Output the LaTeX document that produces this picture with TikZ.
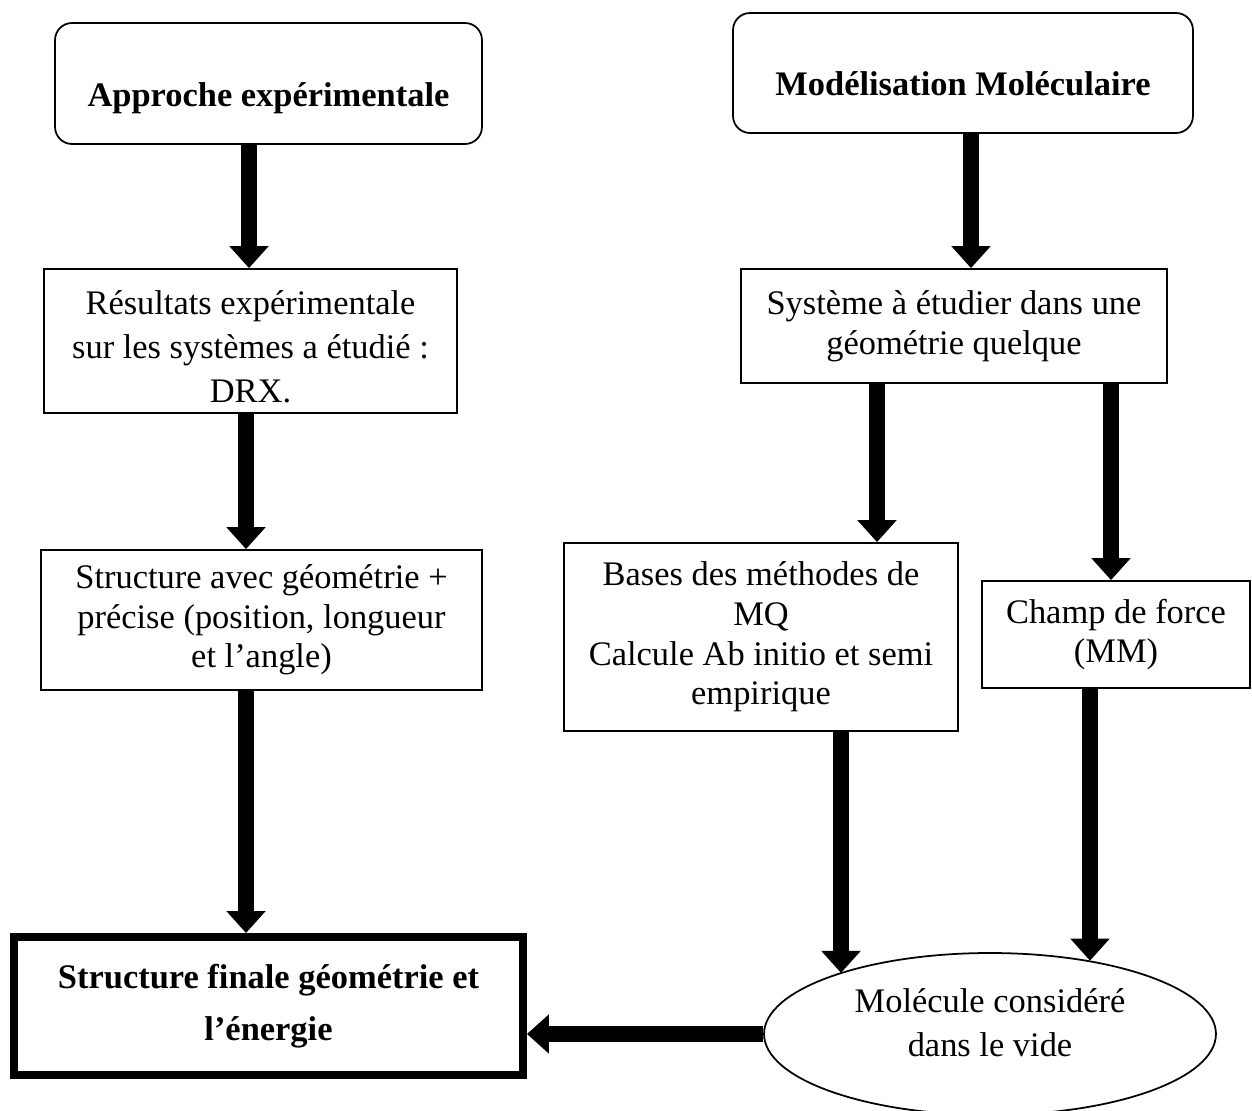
\documentclass[tikz,border=0pt]{standalone}
\usepackage{fontspec}
\setmainfont{Liberation Serif}
\usetikzlibrary{arrows.meta,shapes.geometric}

\begin{document}
\begin{tikzpicture}[x=0.02cm,y=-0.02cm,
    box/.style={draw,line width=1pt,align=center,inner sep=0pt,font=\fontsize{19.6}{22.6}\selectfont},
    rbox/.style={box,rounded corners=0.34cm,font=\fontsize{19.6}{22.6}\selectfont\bfseries,text height=0.92cm,text depth=0cm},
    fleche/.style={line width=0.32cm,-{Triangle[width=0.76cm,length=0.44cm]}}]
  \fill[white] (0,0) rectangle (1252,1111);
  \useasboundingbox (0,0) rectangle (1252,1111);

  % left column
  \node[rbox,minimum width=8.54cm,minimum height=2.42cm] (approche) at (268.5,83.5) {Approche expérimentale};
  \node[box,minimum width=8.26cm,minimum height=2.88cm,text height=2.49cm] (resultats) at (250.5,341)
    {Résultats expérimentale\\[2.5pt] sur les systèmes a étudié :\\[2.5pt] DRX.};
  \node[box,minimum width=8.82cm,minimum height=2.8cm] (structure) at (261.5,620)
    {Structure avec géométrie +\\ précise (position, longueur\\ et l’angle)};
  \node[box,line width=0.16cm,minimum width=10.18cm,minimum height=2.76cm,font=\fontsize{19.6}{22.6}\selectfont\bfseries] (finale) at (268.5,1006)
    {Structure finale géométrie et\\[7.3pt] l’énergie};

  % right column
  \node[rbox,minimum width=9.2cm,minimum height=2.4cm] (modelisation) at (963,73) {Modélisation Moléculaire};
  \node[box,minimum width=8.52cm,minimum height=2.28cm] (systeme) at (954,326)
    {Système à étudier dans une\\ géométrie quelque};
  \node[box,minimum width=7.88cm,minimum height=3.76cm] (bases) at (761,637)
    {Bases des méthodes de\\ MQ\\ Calcule Ab initio et semi\\ empirique};
  \node[box,minimum width=5.36cm,minimum height=2.14cm] (champ) at (1116,634.5)
    {Champ de force\\ (MM)};
  \node[box,ellipse,minimum width=9.04cm,minimum height=3.24cm,text depth=0.46cm] (molecule) at (990,1034)
    {Molécule considéré\\[2.3pt] dans le vide};

  \coordinate (c1) at (249,0);
  \coordinate (c2) at (246,0);
  \coordinate (c3) at (971,0);
  \coordinate (c4) at (877,0);
  \coordinate (c5) at (1111,0);
  \coordinate (c6) at (841,0);
  \coordinate (c7) at (1090,0);

  \draw[fleche] (approche.south -| c1) -- (resultats.north -| c1);
  \draw[fleche] (resultats.south -| c2) -- (structure.north -| c2);
  \draw[fleche] (structure.south -| c2) -- (finale.north -| c2);
  \draw[fleche] (modelisation.south -| c3) -- (systeme.north -| c3);
  \draw[fleche] (systeme.south -| c4) -- (bases.north -| c4);
  \draw[fleche] (systeme.south -| c5) -- (champ.north -| c5);
  \draw[fleche] (bases.south -| c6) -- (c6 |- molecule.158);
  \draw[fleche] (champ.south -| c7) -- (c7 |- molecule.36);
  \draw[fleche] (molecule.west) -- (molecule.west -| finale.east);
\end{tikzpicture}
\end{document}
